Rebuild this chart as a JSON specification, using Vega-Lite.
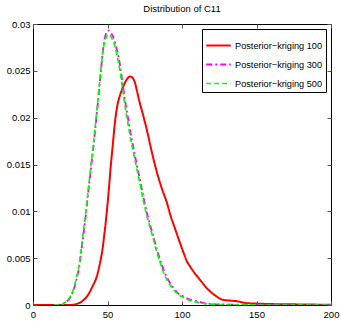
{
  "$schema": "https://vega.github.io/schema/vega-lite/v6.json",
  "width": 298,
  "height": 281,
  "autosize": {"type": "none"},
  "padding": {"left": 33, "top": 24, "right": 10, "bottom": 17},
  "background": "white",
  "title": {"text": "Distribution of C11", "fontSize": 9.5, "fontWeight": "normal", "font": "Liberation Sans", "color": "black", "offset": 6},
  "config": {
    "view": {"stroke": "black", "strokeWidth": 1},
    "axis": {"domain": false, "grid": false, "tickColor": "#555", "tickSize": -4, "labelFont": "Liberation Sans", "labelFontSize": 9.5, "labelColor": "black", "title": null, "labelPadding": 8, "labelFlush": false}
  },
  "datasets": {
    "curves": [
      {"x": 0, "y": 0, "series": "Posterior−kriging 100"},
      {"x": 25, "y": 0, "series": "Posterior−kriging 100"},
      {"x": 29, "y": 0.0001, "series": "Posterior−kriging 100"},
      {"x": 33, "y": 0.0004, "series": "Posterior−kriging 100"},
      {"x": 37, "y": 0.0011, "series": "Posterior−kriging 100"},
      {"x": 40, "y": 0.002, "series": "Posterior−kriging 100"},
      {"x": 42.7, "y": 0.003, "series": "Posterior−kriging 100"},
      {"x": 45, "y": 0.0045, "series": "Posterior−kriging 100"},
      {"x": 46.5, "y": 0.0058, "series": "Posterior−kriging 100"},
      {"x": 48, "y": 0.0077, "series": "Posterior−kriging 100"},
      {"x": 49.5, "y": 0.0099, "series": "Posterior−kriging 100"},
      {"x": 51, "y": 0.0125, "series": "Posterior−kriging 100"},
      {"x": 52, "y": 0.0145, "series": "Posterior−kriging 100"},
      {"x": 53.5, "y": 0.017, "series": "Posterior−kriging 100"},
      {"x": 55, "y": 0.0195, "series": "Posterior−kriging 100"},
      {"x": 56.5, "y": 0.0212, "series": "Posterior−kriging 100"},
      {"x": 58.4, "y": 0.0224, "series": "Posterior−kriging 100"},
      {"x": 60.5, "y": 0.0233, "series": "Posterior−kriging 100"},
      {"x": 63, "y": 0.0241, "series": "Posterior−kriging 100"},
      {"x": 65, "y": 0.0244, "series": "Posterior−kriging 100"},
      {"x": 66.5, "y": 0.0243, "series": "Posterior−kriging 100"},
      {"x": 68.5, "y": 0.0237, "series": "Posterior−kriging 100"},
      {"x": 70, "y": 0.0227, "series": "Posterior−kriging 100"},
      {"x": 71.8, "y": 0.0215, "series": "Posterior−kriging 100"},
      {"x": 73.5, "y": 0.0205, "series": "Posterior−kriging 100"},
      {"x": 75, "y": 0.0196, "series": "Posterior−kriging 100"},
      {"x": 77, "y": 0.0183, "series": "Posterior−kriging 100"},
      {"x": 78.5, "y": 0.0172, "series": "Posterior−kriging 100"},
      {"x": 81, "y": 0.0155, "series": "Posterior−kriging 100"},
      {"x": 84, "y": 0.0137, "series": "Posterior−kriging 100"},
      {"x": 87, "y": 0.0122, "series": "Posterior−kriging 100"},
      {"x": 89.7, "y": 0.011, "series": "Posterior−kriging 100"},
      {"x": 92, "y": 0.0097, "series": "Posterior−kriging 100"},
      {"x": 95, "y": 0.0083, "series": "Posterior−kriging 100"},
      {"x": 98.5, "y": 0.0067, "series": "Posterior−kriging 100"},
      {"x": 101, "y": 0.0056, "series": "Posterior−kriging 100"},
      {"x": 103.2, "y": 0.0047, "series": "Posterior−kriging 100"},
      {"x": 105.5, "y": 0.0041, "series": "Posterior−kriging 100"},
      {"x": 107.6, "y": 0.0036, "series": "Posterior−kriging 100"},
      {"x": 110, "y": 0.0031, "series": "Posterior−kriging 100"},
      {"x": 112, "y": 0.0027, "series": "Posterior−kriging 100"},
      {"x": 114.5, "y": 0.0022, "series": "Posterior−kriging 100"},
      {"x": 116.6, "y": 0.0018, "series": "Posterior−kriging 100"},
      {"x": 120, "y": 0.0013, "series": "Posterior−kriging 100"},
      {"x": 123.3, "y": 0.0009, "series": "Posterior−kriging 100"},
      {"x": 126.5, "y": 0.0006, "series": "Posterior−kriging 100"},
      {"x": 130, "y": 0.0005, "series": "Posterior−kriging 100"},
      {"x": 134, "y": 0.00045, "series": "Posterior−kriging 100"},
      {"x": 137, "y": 0.0004, "series": "Posterior−kriging 100"},
      {"x": 140, "y": 0.0003, "series": "Posterior−kriging 100"},
      {"x": 143.5, "y": 0.0002, "series": "Posterior−kriging 100"},
      {"x": 150, "y": 0.00015, "series": "Posterior−kriging 100"},
      {"x": 160, "y": 0.0001, "series": "Posterior−kriging 100"},
      {"x": 175, "y": 0.00007, "series": "Posterior−kriging 100"},
      {"x": 190, "y": 0.00004, "series": "Posterior−kriging 100"},
      {"x": 200, "y": 0.00002, "series": "Posterior−kriging 100"},

      {"x": 14, "y": 0, "series": "Posterior−kriging 300"},
      {"x": 18, "y": 0.00003, "series": "Posterior−kriging 300"},
      {"x": 22, "y": 0.0003, "series": "Posterior−kriging 300"},
      {"x": 25, "y": 0.0008, "series": "Posterior−kriging 300"},
      {"x": 27, "y": 0.0015, "series": "Posterior−kriging 300"},
      {"x": 29, "y": 0.0026, "series": "Posterior−kriging 300"},
      {"x": 31, "y": 0.0041, "series": "Posterior−kriging 300"},
      {"x": 33, "y": 0.0065, "series": "Posterior−kriging 300"},
      {"x": 35, "y": 0.009, "series": "Posterior−kriging 300"},
      {"x": 37, "y": 0.0119, "series": "Posterior−kriging 300"},
      {"x": 39, "y": 0.0147, "series": "Posterior−kriging 300"},
      {"x": 41.6, "y": 0.0185, "series": "Posterior−kriging 300"},
      {"x": 43.5, "y": 0.0215, "series": "Posterior−kriging 300"},
      {"x": 45, "y": 0.024, "series": "Posterior−kriging 300"},
      {"x": 47, "y": 0.0272, "series": "Posterior−kriging 300"},
      {"x": 48.5, "y": 0.0287, "series": "Posterior−kriging 300"},
      {"x": 50.5, "y": 0.0293, "series": "Posterior−kriging 300"},
      {"x": 52.5, "y": 0.029, "series": "Posterior−kriging 300"},
      {"x": 55, "y": 0.0281, "series": "Posterior−kriging 300"},
      {"x": 56.5, "y": 0.0271, "series": "Posterior−kriging 300"},
      {"x": 58.4, "y": 0.0256, "series": "Posterior−kriging 300"},
      {"x": 60, "y": 0.0238, "series": "Posterior−kriging 300"},
      {"x": 61.7, "y": 0.0219, "series": "Posterior−kriging 300"},
      {"x": 63.5, "y": 0.0202, "series": "Posterior−kriging 300"},
      {"x": 65.1, "y": 0.0187, "series": "Posterior−kriging 300"},
      {"x": 67.5, "y": 0.0167, "series": "Posterior−kriging 300"},
      {"x": 69.6, "y": 0.015, "series": "Posterior−kriging 300"},
      {"x": 72, "y": 0.0132, "series": "Posterior−kriging 300"},
      {"x": 74.1, "y": 0.0115, "series": "Posterior−kriging 300"},
      {"x": 76.5, "y": 0.0098, "series": "Posterior−kriging 300"},
      {"x": 78.5, "y": 0.0086, "series": "Posterior−kriging 300"},
      {"x": 81, "y": 0.0072, "series": "Posterior−kriging 300"},
      {"x": 83, "y": 0.006, "series": "Posterior−kriging 300"},
      {"x": 85.2, "y": 0.0049, "series": "Posterior−kriging 300"},
      {"x": 88, "y": 0.0036, "series": "Posterior−kriging 300"},
      {"x": 91, "y": 0.0026, "series": "Posterior−kriging 300"},
      {"x": 94, "y": 0.0019, "series": "Posterior−kriging 300"},
      {"x": 97, "y": 0.0013, "series": "Posterior−kriging 300"},
      {"x": 101, "y": 0.0009, "series": "Posterior−kriging 300"},
      {"x": 105, "y": 0.0006, "series": "Posterior−kriging 300"},
      {"x": 110, "y": 0.0004, "series": "Posterior−kriging 300"},
      {"x": 115, "y": 0.0002, "series": "Posterior−kriging 300"},
      {"x": 121, "y": 0.0001, "series": "Posterior−kriging 300"},
      {"x": 130, "y": 0.00005, "series": "Posterior−kriging 300"},
      {"x": 140, "y": 0.00003, "series": "Posterior−kriging 300"},
      {"x": 160, "y": 0.00002, "series": "Posterior−kriging 300"},
      {"x": 200, "y": 0.00001, "series": "Posterior−kriging 300"},

      {"x": 14, "y": 0, "series": "Posterior−kriging 500"},
      {"x": 18, "y": 0.00003, "series": "Posterior−kriging 500"},
      {"x": 22, "y": 0.0003, "series": "Posterior−kriging 500"},
      {"x": 25, "y": 0.0009, "series": "Posterior−kriging 500"},
      {"x": 27, "y": 0.0016, "series": "Posterior−kriging 500"},
      {"x": 29, "y": 0.0028, "series": "Posterior−kriging 500"},
      {"x": 31, "y": 0.0043, "series": "Posterior−kriging 500"},
      {"x": 33, "y": 0.0068, "series": "Posterior−kriging 500"},
      {"x": 35, "y": 0.0093, "series": "Posterior−kriging 500"},
      {"x": 37, "y": 0.0122, "series": "Posterior−kriging 500"},
      {"x": 39, "y": 0.015, "series": "Posterior−kriging 500"},
      {"x": 41.6, "y": 0.0188, "series": "Posterior−kriging 500"},
      {"x": 43.5, "y": 0.0218, "series": "Posterior−kriging 500"},
      {"x": 45, "y": 0.0242, "series": "Posterior−kriging 500"},
      {"x": 47, "y": 0.0272, "series": "Posterior−kriging 500"},
      {"x": 48.5, "y": 0.0283, "series": "Posterior−kriging 500"},
      {"x": 50.5, "y": 0.0289, "series": "Posterior−kriging 500"},
      {"x": 52.5, "y": 0.0286, "series": "Posterior−kriging 500"},
      {"x": 55, "y": 0.0276, "series": "Posterior−kriging 500"},
      {"x": 56.5, "y": 0.0266, "series": "Posterior−kriging 500"},
      {"x": 58.4, "y": 0.025, "series": "Posterior−kriging 500"},
      {"x": 60, "y": 0.0232, "series": "Posterior−kriging 500"},
      {"x": 61.7, "y": 0.0213, "series": "Posterior−kriging 500"},
      {"x": 63.5, "y": 0.0196, "series": "Posterior−kriging 500"},
      {"x": 65.1, "y": 0.0181, "series": "Posterior−kriging 500"},
      {"x": 67.5, "y": 0.0162, "series": "Posterior−kriging 500"},
      {"x": 69.6, "y": 0.0146, "series": "Posterior−kriging 500"},
      {"x": 72, "y": 0.0128, "series": "Posterior−kriging 500"},
      {"x": 74.1, "y": 0.0111, "series": "Posterior−kriging 500"},
      {"x": 76.5, "y": 0.0095, "series": "Posterior−kriging 500"},
      {"x": 78.5, "y": 0.0083, "series": "Posterior−kriging 500"},
      {"x": 81, "y": 0.0069, "series": "Posterior−kriging 500"},
      {"x": 83, "y": 0.0057, "series": "Posterior−kriging 500"},
      {"x": 85.2, "y": 0.0046, "series": "Posterior−kriging 500"},
      {"x": 88, "y": 0.0033, "series": "Posterior−kriging 500"},
      {"x": 91, "y": 0.0024, "series": "Posterior−kriging 500"},
      {"x": 94, "y": 0.0017, "series": "Posterior−kriging 500"},
      {"x": 97, "y": 0.0012, "series": "Posterior−kriging 500"},
      {"x": 101, "y": 0.0008, "series": "Posterior−kriging 500"},
      {"x": 105, "y": 0.0005, "series": "Posterior−kriging 500"},
      {"x": 110, "y": 0.0003, "series": "Posterior−kriging 500"},
      {"x": 115, "y": 0.00015, "series": "Posterior−kriging 500"},
      {"x": 121, "y": 0.00008, "series": "Posterior−kriging 500"},
      {"x": 130, "y": 0.00003, "series": "Posterior−kriging 500"},
      {"x": 140, "y": 0.00001, "series": "Posterior−kriging 500"},
      {"x": 160, "y": 0, "series": "Posterior−kriging 500"},
      {"x": 200, "y": 0, "series": "Posterior−kriging 500"}
    ],
    "corner": [{"x": 0, "y": 0}]
  },
  "layer": [
    {
      "data": {"name": "curves"},
      "mark": {"type": "line", "interpolate": "monotone", "clip": true},
      "encoding": {
        "x": {"field": "x", "type": "quantitative", "scale": {"domain": [0, 200], "nice": false, "zero": false}, "axis": {"orient": "bottom", "values": [0, 50, 100, 150, 200], "format": "d"}},
        "y": {"field": "y", "type": "quantitative", "scale": {"domain": [0, 0.03], "nice": false}, "axis": {"orient": "left", "values": [0, 0.005, 0.01, 0.015, 0.02, 0.025, 0.03], "format": "~g", "labelPadding": 7}},
        "color": {"field": "series", "type": "nominal", "scale": {"range": ["#ff0000", "#ff00ff", "#00ff00"]},
          "legend": {"title": null, "orient": "none", "legendX": 169, "legendY": 5, "strokeColor": "black", "fillColor": "white", "padding": 3, "symbolType": "stroke", "symbolSize": 600, "symbolStrokeWidth": 2, "labelFont": "Liberation Sans", "labelFontSize": 9.2, "labelColor": "black", "rowPadding": -9.5, "labelOffset": 3, "cornerRadius": 0}},
        "strokeDash": {"field": "series", "type": "nominal", "scale": {"range": [[1, 0], [6, 3, 2, 3], [5, 3]]}},
        "strokeWidth": {"field": "series", "type": "nominal", "scale": {"range": [2, 1.7, 1.7]}, "legend": null}
      }
    },
    {
      "data": {"name": "corner"},
      "mark": {"type": "point", "opacity": 0},
      "encoding": {
        "x": {"field": "x", "type": "quantitative", "axis": {"orient": "top", "values": [0, 50, 100, 150, 200], "labels": false}},
        "y": {"field": "y", "type": "quantitative", "axis": {"orient": "right", "values": [0, 0.005, 0.01, 0.015, 0.02, 0.025, 0.03], "labels": false}}
      }
    }
  ],
  "resolve": {"axis": {"x": "independent", "y": "independent"}}
}
